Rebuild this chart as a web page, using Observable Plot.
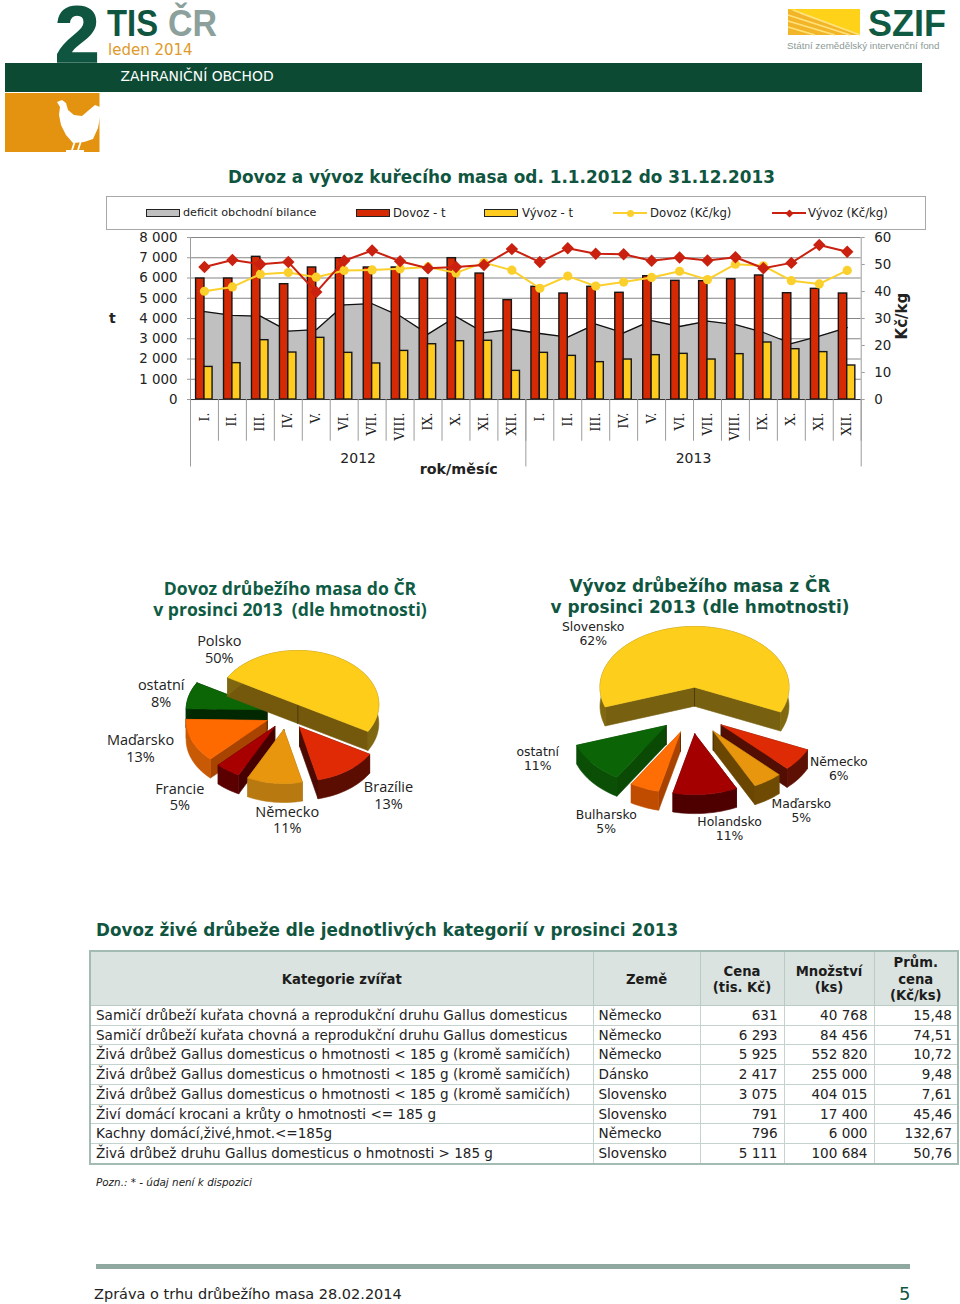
<!DOCTYPE html>
<html lang="cs">
<head>
<meta charset="utf-8">
<title>Dovoz a vývoz kuřecího masa</title>
<script src="https://cdn.jsdelivr.net/npm/d3@7"></script>
<script src="https://cdn.jsdelivr.net/npm/@observablehq/plot@0.6"></script>
<style>
html,body{margin:0;padding:0;background:#fff}
body{position:relative;width:960px;height:1304px;overflow:hidden;font-family:"DejaVu Sans",Verdana,sans-serif;color:#222}
.abs{position:absolute;white-space:nowrap}
table{position:absolute;left:89px;top:950px;width:868px;height:215px;border-collapse:collapse;table-layout:fixed;border:2.5px solid #a3bcb3;font-size:13.55px;color:#222}
th{background:#dae3df;font-weight:bold;font-size:13.2px;border:1px solid #b9cbc4;line-height:16.5px;padding:3px 0 0 0;color:#1c1c1c}
td{border:1px solid #c4d3cd;padding:0 5px;height:18.6px;line-height:17px;white-space:nowrap}
td.n{text-align:right}
td.n:not(:last-child){padding-right:6px}
</style>
</head>
<body>
<script>
// ---------- data: combined chart ----------
const months = ["I.","II.","III.","IV.","V.","VI.","VII.","VIII.","IX.","X.","XI.","XII."];
const years = ["2012","2013"];
const dovozT = [5975,5975,7045,5695,6520,6980,6520,6520,5975,6980,6220,4905,5565,5235,5565,5270,6090,5860,5845,5940,6125,5250,5465,5235];
const vyvozT = [1610,1795,2930,2320,3045,2305,1780,2400,2730,2880,2900,1415,2305,2155,1845,1975,2190,2255,1975,2240,2815,2485,2340,1680];
const deficit = [4345,4150,4115,3375,3450,4670,4730,4120,3230,4090,3300,3470,3260,3080,3720,3295,3900,3605,3870,3700,3310,2765,3125,3555];
const dovozKc = [40.1,41.7,46.4,47.0,45.3,47.8,48.0,48.4,49.1,46.9,50.7,47.9,41.2,45.7,42.0,43.5,45.2,47.5,44.4,50.1,49.5,44.0,42.8,47.8];
const vyvozKc = [49.1,51.7,50.1,50.9,39.8,51.4,55.2,51.2,48.6,49.1,49.8,55.7,50.9,56.0,54.0,53.8,51.4,52.6,51.5,52.7,48.6,50.6,57.2,54.7];
const tTicks = [0,1000,2000,3000,4000,5000,6000,7000,8000];
const kcTicks = [0,10,20,30,40,50,60];

// ---------- data: pies ----------
const importCountries = ["Polsko","Brazílie","Německo","Francie","Maďarsko","ostatní"];
const importShares = [50,13,11,5,13,8];
const exportCountries = ["Slovensko","Německo","Maďarsko","Holandsko","Bulharsko","ostatní"];
const exportShares = [62,6,5,11,5,11];

// ---------- data: table ----------
const tableHead = ["Kategorie zvířat","Země","Cena<br>(tis. Kč)","Množství<br>(ks)","Prům.<br>cena<br>(Kč/ks)"];
const tableCategory = [
 "Samičí drůbeží kuřata chovná a reprodukční druhu Gallus domesticus",
 "Samičí drůbeží kuřata chovná a reprodukční druhu Gallus domesticus",
 "Živá drůbež Gallus domesticus o hmotnosti < 185 g (kromě samičích)",
 "Živá drůbež Gallus domesticus o hmotnosti < 185 g (kromě samičích)",
 "Živá drůbež Gallus domesticus o hmotnosti < 185 g (kromě samičích)",
 "Živí domácí krocani a krůty o hmotnosti <= 185 g",
 "Kachny domácí,živé,hmot.<=185g",
 "Živá drůbež druhu Gallus domesticus o hmotnosti > 185 g"];
const tableCountry = ["Německo","Německo","Německo","Dánsko","Slovensko","Slovensko","Německo","Slovensko"];
const tablePrice = ["631","6 293","5 925","2 417","3 075","791","796","5 111"];
const tableQty = ["40 768","84 456","552 820","255 000","404 015","17 400","6 000","100 684"];
const tableAvg = ["15,48","74,51","10,72","9,48","7,61","45,46","132,67","50,76"];

// ---------- style / layout ----------
const green = "#0f5540";
const FONT = '"DejaVu Sans",Verdana,sans-serif';
const RED = "#d62a04", YEL = "#ffcb1f", LINEY = "#fbd02c", LINER = "#c9200f";
const KC = 8000/60;
const sp = d3.format(",");
const fmtT = v => sp(v).replace(/,/g," ");

function put(html, css){
  const d = document.createElement("div");
  d.className = "abs"; d.innerHTML = html; d.style.cssText = css;
  document.body.appendChild(d); return d;
}

// ---------- header ----------
const header = document.createElementNS("http://www.w3.org/2000/svg","svg");
header.setAttribute("width",960); header.setAttribute("height",160);
header.style.cssText = "position:absolute;left:0;top:0";
header.innerHTML = `
 <rect x="5" y="63" width="917" height="29" fill="#0c4a34"/>
 <rect x="5" y="93" width="94.5" height="59" fill="#e3930f"/>
 <path d="M57 102 L62 100 L66 103 L68 110 L74 115 L82 116 L89 110 L95 105 L100 107 L100 117 L98 128 L93 139 L84 142 L73 143 L66 135 L61 125 L59 115 L60 107 Z" fill="#fff"/>
 <path d="M81 141 L78 150 M75 141 L72 150 M66 151 L84 151" stroke="#fff" stroke-width="1.8" fill="none"/>
 <text x="55" y="61.5" font-family="Liberation Sans" font-weight="bold" font-size="80" stroke="#0f5540" stroke-width="1.6" fill="#0f5540">2</text>
 <text x="107" y="36" font-family="Liberation Sans" font-weight="bold" font-size="36" textLength="51" lengthAdjust="spacingAndGlyphs" fill="#0f5540">TIS</text>
 <text x="168" y="36" font-family="Liberation Sans" font-weight="bold" font-size="36" textLength="49" lengthAdjust="spacingAndGlyphs" fill="#8ca19c">ČR</text>
 <text x="108" y="55" font-family="DejaVu Sans" font-size="15" fill="#e09a2b">leden 2014</text>
 <text x="120.5" y="81" font-family="DejaVu Sans" font-size="13.9" fill="#fff">ZAHRANIČNÍ OBCHOD</text>
 <rect x="788" y="9" width="72" height="26" fill="#ffd21a"/>
 <path d="M788 9 L860 35 L788 35 Z" fill="#f2b52a"/>
 <path d="M788 15 L850 35 M788 21 L835 35 M788 27 L815 35 M793 10 L860 35 M800 13 L860 35" stroke="#ffe27a" stroke-width="1.4" fill="none"/>
 <text x="868" y="36" font-family="Liberation Sans" font-weight="bold" font-size="36" fill="#0f5a42">SZIF</text>
 <text x="787" y="49" font-family="Liberation Sans" font-size="9.8" fill="#8b9a96">Státní zemědělský intervenční fond</text>`;
document.body.appendChild(header);

put("Dovoz a vývoz kuřecího masa od. 1.1.2012 do 31.12.2013",`left:228px;top:166px;font-size:16.86px;line-height:22px;font-weight:bold;color:${green}`);

// ---------- legend ----------
put("",`left:106px;top:196px;width:818px;height:32px;border:1px solid #a8a8a8;background:#fff`);
const legendText = "font-size:11.7px;line-height:16px;top:205px;color:#222;";
function swatch(x,col){ put("",`left:${x}px;top:209px;width:32px;height:6px;background:${col};border:1px solid #222`); }
function lineKey(x,col,diamond){
  put("",`left:${x}px;top:212px;width:34px;height:2px;background:${col}`);
  put("",`left:${x+13.5}px;top:209.5px;width:7px;height:7px;background:${col};${diamond?"transform:rotate(45deg) scale(.8)":"border-radius:50%"}`);
}
swatch(146,"#c0c0c0"); put("deficit obchodní bilance",legendText+"left:183px;font-size:11.2px");
swatch(356,RED); put("Dovoz - t",legendText+"left:393px");
swatch(484,YEL); put("Vývoz - t",legendText+"left:522px");
lineKey(613,LINEY,false); put("Dovoz (Kč/kg)",legendText+"left:650px");
lineKey(772,LINER,true); put("Vývoz (Kč/kg)",legendText+"left:808px");

// ---------- combined chart ----------
const rows = dovozT.map((d,i)=>({
  i, month: months[i%12], dovoz:d, vyvoz:vyvozT[i], deficit:deficit[i],
  dovozKc:dovozKc[i]*KC, vyvozKc:vyvozKc[i]*KC
}));
const AX = "#9c9c9c", GRID = "#858585";
const yBelow = -3500, pxT = 49.38; // t per pixel on the shared y scale
const chart = Plot.plot({
  width:960, height:250, marginTop:7, marginBottom:10.1, marginLeft:190, marginRight:99.3,
  style:{fontFamily:FONT, background:"transparent", color:"#222", fontSize:"13.4px", overflow:"visible"},
  x:{domain:[0,24], axis:null},
  y:{domain:[yBelow,8000], axis:null},
  marks:[
    Plot.ruleY(tTicks,{x1:0,x2:24,stroke:GRID,strokeWidth:1}),
    Plot.areaY(rows,{x:d=>d.i+.5,y1:0,y2:"deficit",fill:"#c0c0c0"}),
    Plot.lineY(rows,{x:d=>d.i+.5,y:"deficit",stroke:"#111",strokeWidth:1.3}),
    Plot.rectY(rows,{x1:d=>d.i+.2,x2:d=>d.i+.5,y1:0,y2:"dovoz",fill:RED,stroke:"#161616",strokeWidth:1.4}),
    Plot.rectY(rows,{x1:d=>d.i+.5,x2:d=>d.i+.79,y1:0,y2:"vyvoz",fill:YEL,stroke:"#161616",strokeWidth:1.4}),
    Plot.ruleY([0],{x1:0,x2:24,stroke:"#333",strokeWidth:1}),
    Plot.lineY(rows,{x:d=>d.i+.5,y:"dovozKc",stroke:LINEY,strokeWidth:2}),
    Plot.dot(rows,{x:d=>d.i+.5,y:"dovozKc",r:4.6,fill:LINEY}),
    Plot.lineY(rows,{x:d=>d.i+.5,y:"vyvozKc",stroke:LINER,strokeWidth:2}),
    Plot.dot(rows,{x:d=>d.i+.5,y:"vyvozKc",symbol:"diamond2",r:5.6,fill:LINER}),
    // category axis: month dividers and year dividers below the zero line
    Plot.ruleX(d3.range(25),{y1:0,y2:-2060,stroke:AX,strokeWidth:1}),
    Plot.ruleX([0,12,24],{y1:yBelow+170,y2:0,stroke:AX,strokeWidth:1}),
    Plot.ruleX([0,24],{y1:0,y2:8000,stroke:AX,strokeWidth:1}),
    Plot.text(rows,{x:d=>d.i+.5,y:-13*pxT,text:"month",rotate:-90,textAnchor:"end",lineAnchor:"middle",fontSize:12.6,fontFamily:'"DejaVu Serif",serif',fill:"#222"}),
    Plot.text(years,{x:(d,i)=>6+12*i,y:-59*pxT,text:d=>d,fontSize:14,fill:"#222"}),
    Plot.text(["rok/měsíc"],{x:9.6,y:-69.5*pxT,text:d=>d,fontSize:14.3,fontWeight:"bold",fill:"#222"}),
    Plot.axisY(tTicks,{anchor:"left",tickSize:3,tickPadding:10,tickFormat:fmtT,stroke:AX,fontSize:13.4,label:null}),
    Plot.axisY(kcTicks.map(v=>v*KC),{anchor:"right",tickSize:3,tickPadding:10,tickFormat:v=>String(Math.round(v/KC)),stroke:AX,fontSize:13.4,label:null}),
    Plot.text(["t"],{x:-2.8,y:4000,text:d=>d,fontSize:14,fontWeight:"bold",fill:"#222"}),
    Plot.text(["Kč/kg"],{x:25.45,y:4120,text:d=>d,rotate:-90,fontSize:15,fontWeight:"bold",fill:"#222"})
  ]
});
chart.style.position="absolute"; chart.style.left="0"; chart.style.top="230px"; chart.style.maxWidth="none";
document.body.appendChild(chart);

// ---------- pies ----------
const rad = a => a*Math.PI/180;
function pie(shares, names, L){
  let a = L.start; const poly=[]; const labels=[];
  const slices = shares.map((s,i)=>{ const a0=a; a+=s*3.6; return {i,a0,a1:a}; });
  const at = (sl,th)=>[L.cx+L.off[sl.i][0]+L.rx*Math.sin(rad(th)), L.cy+L.off[sl.i][1]-L.ry*Math.cos(rad(th))];
  [...slices].sort((p,q)=> p.i===0?1 : q.i===0?-1 : L.off[p.i][1]-L.off[q.i][1]).forEach(sl=>{
    const arc=[]; const n=Math.ceil((sl.a1-sl.a0)/2.5);
    for(let k=0;k<=n;k++) arc.push(at(sl,sl.a0+(sl.a1-sl.a0)*k/n));
    const apex=[L.cx+L.off[sl.i][0],L.cy+L.off[sl.i][1]];
    const outline=[apex,...arc];
    const push=(id,pts,fill,stroke)=>pts.forEach(p=>poly.push({id,x:p[0],y:p[1],fill,stroke}));
    // radial faces first, then the rim, then the top surface
    [[apex,arc[0]],[arc[n],apex]].forEach((e,j)=>{
      push(`${sl.i}f${j}`,[e[0],e[1],[e[1][0],e[1][1]+L.depth],[e[0][0],e[0][1]+L.depth],e[0]],L.side[sl.i],L.side[sl.i]);
    });
    const lower=arc.map(p=>[p[0],p[1]+L.depth]).reverse();
    push(`${sl.i}r`,[...arc,...lower,arc[0]],L.rim[sl.i],L.rim[sl.i]);
    push(`${sl.i}e`,[apex,[apex[0],apex[1]+L.depth]],"none","#2a2000");
    push(`${sl.i}t`,[...outline,apex],L.top[sl.i],L.top[sl.i]);
    const m=at(sl,(sl.a0+sl.a1)/2);
    labels.push({x:m[0]+L.lab[sl.i][0],y:m[1]+L.lab[sl.i][1],t:`${names[sl.i]}\n${shares[sl.i]}%`});
  });
  return {poly,labels};
}
function pieChart(names,shares,L){
  const {poly,labels}=pie(shares,names,L);
  const p=Plot.plot({
    width:480,height:240,margin:0,
    style:{fontFamily:L.font,background:"transparent",color:"#222"},
    x:{domain:L.xd,axis:null},y:{domain:L.yd,reverse:true,axis:null},color:{type:"identity"},
    marks:[
      Plot.line(poly,{x:"x",y:"y",z:"id",fill:d=>d.fill,stroke:d=>d.stroke,strokeWidth:.6}),
      Plot.text(labels,{x:"x",y:"y",text:"t",fontSize:L.fs,fill:"#222",lineHeight:1.15})
    ]
  });
  p.style.position="absolute";p.style.left=L.xd[0]+"px";p.style.top=L.yd[0]+"px";p.style.maxWidth="none";
  document.body.appendChild(p);
}
pieChart(importCountries,importShares,{
  cx:297.3,cy:704,rx:81,ry:54,depth:19,start:-60,xd:[0,480],yd:[620,860],font:'"Open Sans",sans-serif',fs:14.5,
  off:[[0,0],[1.7,22.7],[-14,25],[-23,22],[-30.7,16],[-30.7,5.3]],
  lab:[[-119,-8.5],[40.7,24.9],[12.7,36.4],[-48.1,26],[-51.6,7.3],[-27.9,-1.8]],
  top:["#fdcd1a","#e02a05","#e8960e","#a80000","#ff6a00","#0c6605"],
  rim:["#7f6610","#5c0d02","#b87a10","#5a0000","#c85a05","#013001"],
  side:["#74590c","#4c0a02","#8c5c08","#470000","#a84400","#012801"]
});
pieChart(exportCountries,exportShares,{
  cx:694,cy:686.7,rx:94.5,ry:60.7,depth:19,start:-109,xd:[480,960],yd:[620,860],font:FONT,fs:12.4,
  off:[[0,0],[26.7,37.7],[18.7,44],[.3,46.7],[-14,45],[-28.3,38.3]],
  lab:[[-105.6,7.2],[40.2,8.8],[33.6,29.7],[24.2,34.3],[-38.3,32.9],[-54.8,-5]],
  top:["#fdcf1c","#df2b05","#e8960e","#a50000","#ff6e05","#0b6406"],
  rim:["#82690f","#5e1004","#6e4a02","#4e0000","#c04c00","#0a4f05"],
  side:["#776010","#520e03","#6a4600","#470000","#a84200","#0a4a05"]
});
put("Dovoz drůbežího masa do ČR<br>v prosinci 2013&nbsp; (dle hmotnosti)",
  `left:100px;width:380px;text-align:center;top:578px;font-family:'Open Sans',sans-serif;font-weight:700;font-size:17.6px;line-height:21px;color:#0f5c45`);
put("Vývoz drůbežího masa z ČR<br>v prosinci 2013 (dle hmotnosti)",
  `left:500px;width:400px;text-align:center;top:576px;font-weight:bold;font-size:16.9px;line-height:21px;color:${green}`);

// ---------- table ----------
put("Dovoz živé drůbeže dle jednotlivých kategorií v prosinci 2013",`left:96px;top:919px;font-size:16.8px;line-height:22px;font-weight:bold;color:${green}`);
const colW=[503,107,84,90,84];
const tbl=document.createElement("table");
tbl.innerHTML=`<colgroup>${colW.map(w=>`<col style="width:${w}px">`).join("")}</colgroup>
<thead><tr>${tableHead.map(h=>`<th style="height:50px">${h}</th>`).join("")}</tr></thead>
<tbody>${tableCategory.map((c,i)=>`<tr><td>${c.replace(/</g,"&lt;").replace(/>/g,"&gt;")}</td><td>${tableCountry[i]}</td><td class="n">${tablePrice[i]}</td><td class="n">${tableQty[i]}</td><td class="n">${tableAvg[i]}</td></tr>`).join("")}</tbody>`;
document.body.appendChild(tbl);

// ---------- footer ----------
put("Pozn.: * - údaj není k dispozici","left:96px;top:1175px;font-size:10.4px;line-height:14px;font-style:italic;color:#222");
put("","left:96px;top:1263.5px;width:814px;height:5px;background:#8fa8a0");
put("Zpráva o trhu drůbežího masa 28.02.2014","left:94px;top:1284px;font-size:14.5px;line-height:20px;color:#222");
put("5",`left:899px;top:1283px;font-size:18px;line-height:22px;color:${green}`);
</script>
</body>
</html>
